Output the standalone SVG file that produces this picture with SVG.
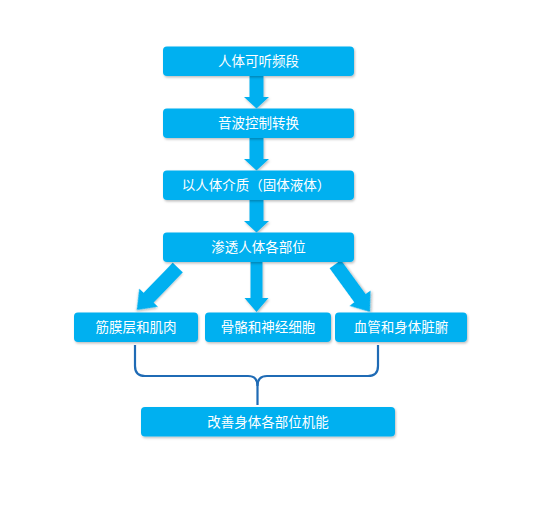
<svg xmlns="http://www.w3.org/2000/svg" width="551" height="524" viewBox="0 0 551 524">
<defs>
<filter id="sh" x="-20%" y="-20%" width="140%" height="150%">
<feDropShadow dx="1" dy="1.5" stdDeviation="1.2" flood-color="#000" flood-opacity="0.25"/>
</filter>
<style>
.box{fill:#00B0F0;filter:url(#sh)}
.arr{fill:#00B0F0;filter:url(#sh)}
.t{font-family:"Noto Sans CJK SC","Noto Sans",sans-serif;font-size:13.5px;fill:#fff;text-anchor:middle}
.brace{fill:none;stroke:#1F6BB5;stroke-width:2.2;stroke-linejoin:round}
</style>
</defs>
<rect width="551" height="524" fill="#fff"/>
<g id="connectors">
<polygon class="arr" points="249.5,76 263.5,76 263.5,97 269,97 256.5,108.5 244,97 249.5,97"/>
<polygon class="arr" points="249.5,138 263.5,138 263.5,159 269,159 256.5,170.5 244,159 249.5,159"/>
<polygon class="arr" points="249.5,200 263.5,200 263.5,221 269,221 256.5,232.5 244,221 249.5,221"/>
<polygon class="arr" points="250.5,262 262.5,262 262.5,298 268.5,298 256.5,312 244.5,298 250.5,298"/>
<polygon class="arr" transform="translate(177.8,267.5) rotate(44)" points="-7,0 7,0 7,42 13,42 0,59 -13,42 -7,42"/>
<polygon class="arr" transform="translate(335.3,264.2) rotate(-36)" points="-7,0 7,0 7,42 13,42 0,59 -13,42 -7,42"/>
<path class="brace" d="M135,345 L135,366 Q135,376 145,376 L248,376 Q257.5,376 257.5,386 L257.5,405"/>
<path class="brace" d="M378,345 L378,366 Q378,376 368,376 L267,376 Q257.5,376 257.5,386"/>
</g>
<g id="n1"><rect class="box" x="163" y="46.5" width="191" height="29.5" rx="4"/><text class="t" x="258.5" y="66">人体可听频段</text></g>
<g id="n2"><rect class="box" x="163" y="108.5" width="191" height="29.5" rx="4"/><text class="t" x="258.5" y="128">音波控制转换</text></g>
<g id="n3"><rect class="box" x="163" y="170.5" width="191" height="29.5" rx="4"/><text class="t" x="256" y="190">以人体介质（固体液体）</text></g>
<g id="n4"><rect class="box" x="163" y="232.5" width="191" height="29.5" rx="4"/><text class="t" x="258.5" y="252">渗透人体各部位</text></g>
<g id="n5"><rect class="box" x="74" y="312.5" width="124" height="29.5" rx="4"/><text class="t" x="136" y="332">筋膜层和肌肉</text></g>
<g id="n6"><rect class="box" x="205" y="312.5" width="126" height="29.5" rx="4"/><text class="t" x="268" y="332">骨骼和神经细胞</text></g>
<g id="n7"><rect class="box" x="335" y="312.5" width="132" height="29.5" rx="4"/><text class="t" x="401" y="332">血管和身体脏腑</text></g>
<g id="n8"><rect class="box" x="141" y="407" width="254" height="29.5" rx="4"/><text class="t" x="268" y="426.5">改善身体各部位机能</text></g>
</svg>
